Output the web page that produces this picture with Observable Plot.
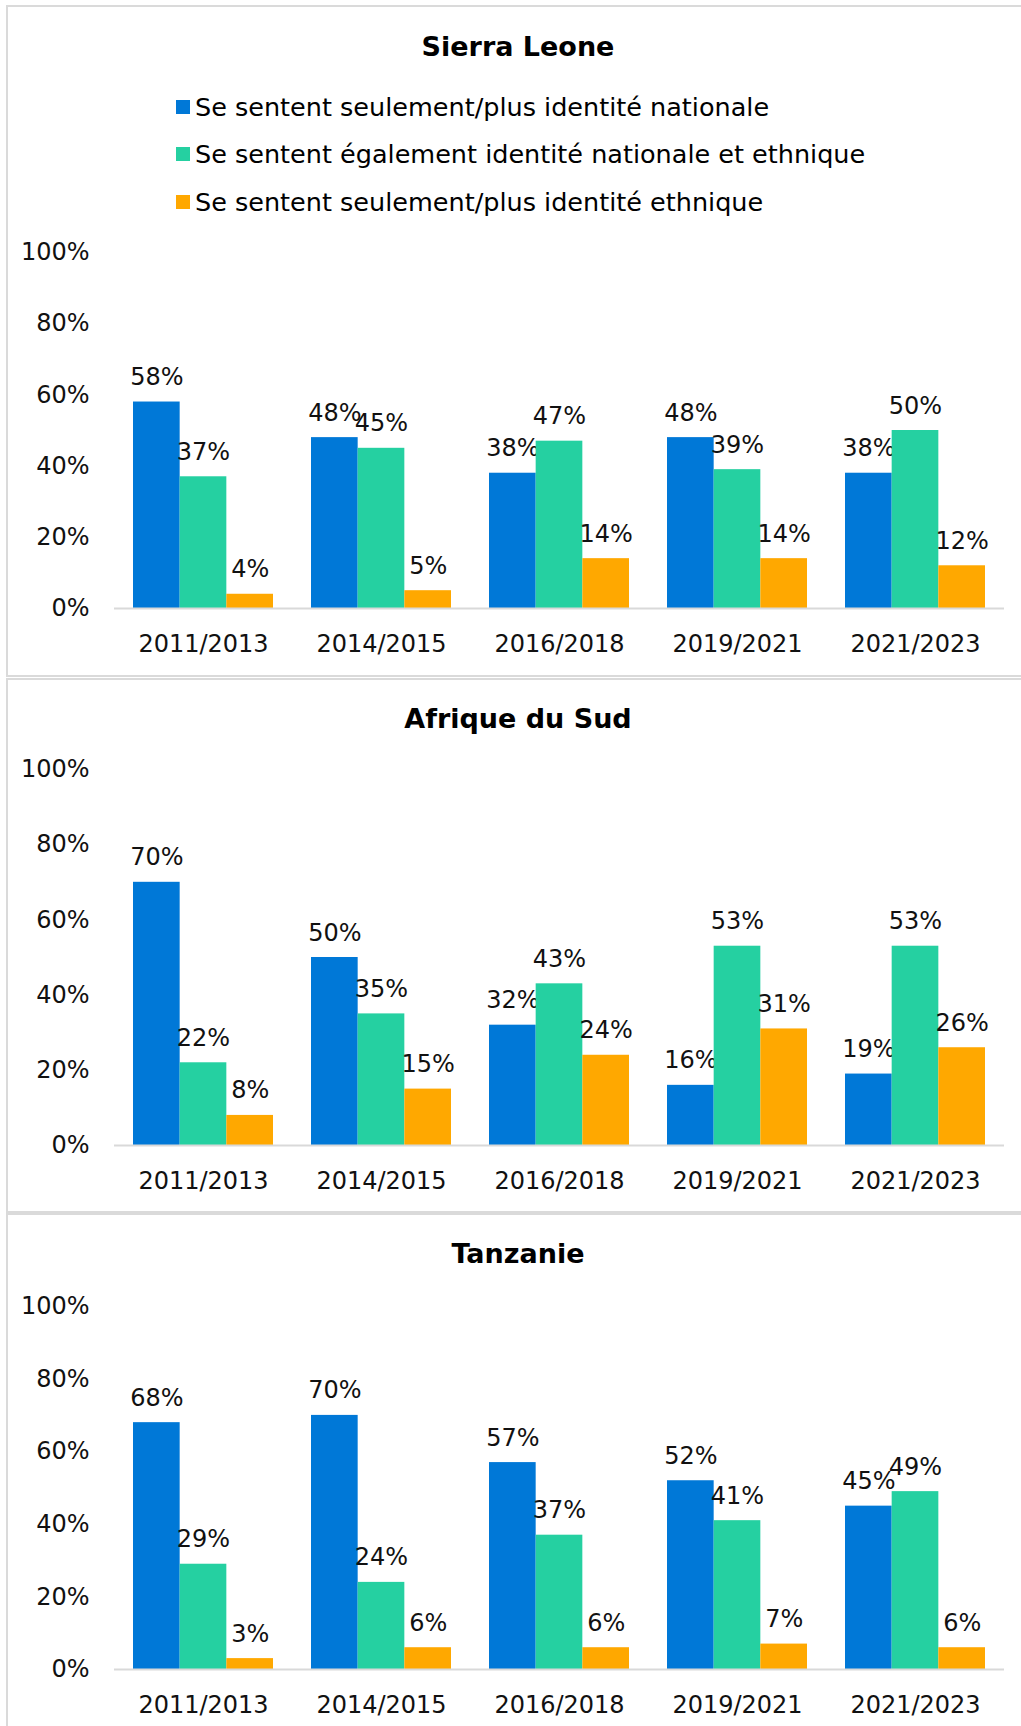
<!DOCTYPE html>
<html><head><meta charset="utf-8">
<script src="https://cdn.jsdelivr.net/npm/d3@7"></script>
<script src="https://cdn.jsdelivr.net/npm/@observablehq/plot@0.6"></script>
<style>
body{margin:0;background:#fff;font-family:"DejaVu Sans",sans-serif;color:#000}
#wrap{position:relative;width:1021px;height:1726px;overflow:hidden;background:#fff}
.panel{position:absolute;left:6px;width:1040px;border:2px solid #dadada;box-sizing:border-box}
.title{position:absolute;left:6px;width:1024px;text-align:center;font-weight:bold;font-size:27px;line-height:40px}
.legend-item{position:absolute;left:176px;line-height:40px;font-size:25.5px;white-space:nowrap;display:flex;align-items:center}
.sw{width:14px;height:14px;margin-right:5px;flex:none}
.chart{position:absolute;left:0}
</style></head>
<body><div id="wrap"></div>
<script>
const periods = ["2011/2013","2014/2015","2016/2018","2019/2021","2021/2023"];
const seriesNames = [
  "Se sentent seulement/plus identité nationale",
  "Se sentent également identité nationale et ethnique",
  "Se sentent seulement/plus identité ethnique"
];
const seriesColors = ["#0078d7","#25d0a1","#ffa800"];
const countries = ["Sierra Leone","Afrique du Sud","Tanzanie"];

const sierraLeoneNational = [58,48,38,48,38];
const sierraLeoneBoth     = [37,45,47,39,50];
const sierraLeoneEthnic   = [4,5,14,14,12];

const southAfricaNational = [70,50,32,16,19];
const southAfricaBoth     = [22,35,43,53,53];
const southAfricaEthnic   = [8,15,24,31,26];

const tanzaniaNational = [68,70,57,52,45];
const tanzaniaBoth     = [29,24,37,41,49];
const tanzaniaEthnic   = [3,6,6,7,6];

const yTicks = [0,20,40,60,80,100];

const countrySeries = [
  [sierraLeoneNational, sierraLeoneBoth, sierraLeoneEthnic],
  [southAfricaNational, southAfricaBoth, southAfricaEthnic],
  [tanzaniaNational, tanzaniaBoth, tanzaniaEthnic]
];

// layout (page pixels)
const layout = [
  {boxTop:5, boxH:672, titleY:47, svgTop:222, svgH:430, mt:30, legend:true},
  {boxTop:678, boxH:535, titleY:719, svgTop:740, svgH:449, mt:29, legend:false},
  {boxTop:1213, boxH:600, titleY:1254, svgTop:1276, svgH:437, mt:30, legend:false}
];
const legendY = [107,154,202];

const W = 1021, ML = 114, MR = 17, MB = 44;
const pIn = 0.2135, pOut = 0.1067;
const step = (W - ML - MR) / (periods.length - pIn + 2*pOut);
const bw = step * (1 - pIn);
const sub = bw / 3;

const wrap = document.getElementById("wrap");

countries.forEach((country, ci) => {
  const L = layout[ci];
  const box = document.createElement("div");
  box.className = "panel";
  box.style.top = L.boxTop + "px";
  box.style.height = L.boxH + "px";
  wrap.appendChild(box);

  const t = document.createElement("div");
  t.className = "title";
  t.style.top = (L.titleY - 20) + "px";
  t.textContent = country;
  wrap.appendChild(t);

  if (L.legend) {
    seriesNames.forEach((name, si) => {
      const it = document.createElement("div");
      it.className = "legend-item";
      it.style.top = (legendY[si] - 20) + "px";
      const sw = document.createElement("span");
      sw.className = "sw";
      sw.style.background = seriesColors[si];
      it.appendChild(sw);
      const tx = document.createElement("span");
      tx.textContent = name;
      it.appendChild(tx);
      wrap.appendChild(it);
    });
  }

  const marks = [];
  seriesNames.forEach((name, si) => {
    const rows = periods.map((p, pi) => ({period: p, value: countrySeries[ci][si][pi]}));
    marks.push(Plot.barY(rows, {
      x: "period", y: "value", fill: seriesColors[si],
      insetLeft: si * sub, insetRight: (2 - si) * sub
    }));
    marks.push(Plot.text(rows, {
      x: "period", y: "value", text: d => d.value + "%",
      dx: (si - 1) * sub, dy: -17, lineAnchor: "bottom",
      fontSize: 24, fill: "#111"
    }));
  });
  marks.push(Plot.ruleY([0], {stroke: "#d9d9d9", strokeWidth: 2}));
  marks.push(Plot.axisY({ticks: yTicks, tickFormat: d => d + "%", tickSize: 0, tickPadding: 25, fontSize: 24, label: null, fill: "#111"}));
  marks.push(Plot.axisX({tickSize: 0, tickPadding: 26, fontSize: 24, label: null, fill: "#111"}));

  const chart = Plot.plot({
    width: W, height: L.svgH,
    marginLeft: ML, marginRight: MR, marginTop: L.mt, marginBottom: MB,
    style: {fontFamily: "DejaVu Sans", fontSize: "24px", background: "transparent", color: "#111", overflow: "visible"},
    x: {type: "band", domain: periods, paddingInner: pIn, paddingOuter: pOut, axis: null},
    y: {domain: [0, 100], axis: null},
    marks
  });
  chart.classList.add("chart");
  chart.style.position = "absolute";
  chart.style.top = L.svgTop + "px";
  chart.style.left = "0px";
  wrap.appendChild(chart);
});
</script>
</body></html>
